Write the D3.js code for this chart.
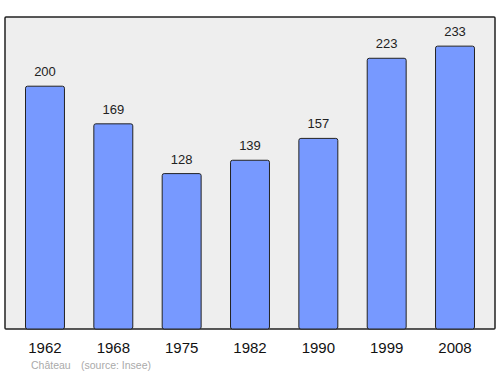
<!DOCTYPE html>
<html>
<head>
<meta charset="utf-8">
<script src="https://cdn.jsdelivr.net/npm/d3@7"></script>
<style>
  body { margin: 0; background: #fff; }
  svg { display: block; font-family: "Liberation Sans", Arial, sans-serif; }
</style>
</head>
<body>
<svg id="chart" width="500" height="374"></svg>
<script>
const years = ["1962", "1968", "1975", "1982", "1990", "1999", "2008"];
const population = [200, 169, 128, 139, 157, 223, 233];
const placeName = "Château";
const sourceText = "(source: Insee)";

const svg = d3.select("#chart");
const plot = { left: 5, top: 17, right: 495, bottom: 329 };

const x = d3.scaleBand()
    .domain(years)
    .range([plot.left, plot.right])
    .paddingInner(0.43)
    .paddingOuter(0.3);

const y = d3.scaleLinear()
    .domain([0, 257])
    .range([plot.bottom, plot.top]);

// frame
svg.append("rect")
    .attr("x", plot.left)
    .attr("y", plot.top)
    .attr("width", plot.right - plot.left)
    .attr("height", plot.bottom - plot.top)
    .attr("rx", 1)
    .style("fill", "#eeeeee")
    .style("stroke", "#222")
    .style("stroke-width", 1.5);

const data = years.map((yr, i) => ({ year: yr, value: population[i] }));

svg.selectAll(".bar").data(data).enter().append("rect")
    .attr("class", "bar")
    .attr("x", (d) => x(d.year))
    .attr("y", (d) => y(d.value))
    .attr("width", x.bandwidth())
    .attr("height", (d) => plot.bottom - y(d.value))
    .attr("rx", 2)
    .style("fill", "#7799ff")
    .style("stroke", "#222")
    .style("stroke-width", 1);

svg.selectAll(".val").data(data).enter().append("text")
    .attr("class", "val")
    .attr("x", (d) => x(d.year) + x.bandwidth() / 2)
    .attr("y", (d) => y(d.value) - 10)
    .attr("text-anchor", "middle")
    .style("font-size", "13px")
    .style("fill", "#222")
    .text((d) => d.value);

// x axis labels
svg.selectAll(".yr").data(data).enter().append("text")
    .attr("class", "yr")
    .attr("x", (d) => x(d.year) + x.bandwidth() / 2)
    .attr("y", 353)
    .attr("text-anchor", "middle")
    .style("font-size", "15px")
    .style("fill", "#111")
    .text((d) => d.year);

svg.append("text")
    .attr("x", 31)
    .attr("y", 369)
    .style("font-size", "10.5px")
    .style("fill", "#aaa")
    .text(placeName);

svg.append("text")
    .attr("x", 81)
    .attr("y", 369)
    .style("font-size", "10.5px")
    .style("fill", "#aaa")
    .text(sourceText);
</script>
</body>
</html>
